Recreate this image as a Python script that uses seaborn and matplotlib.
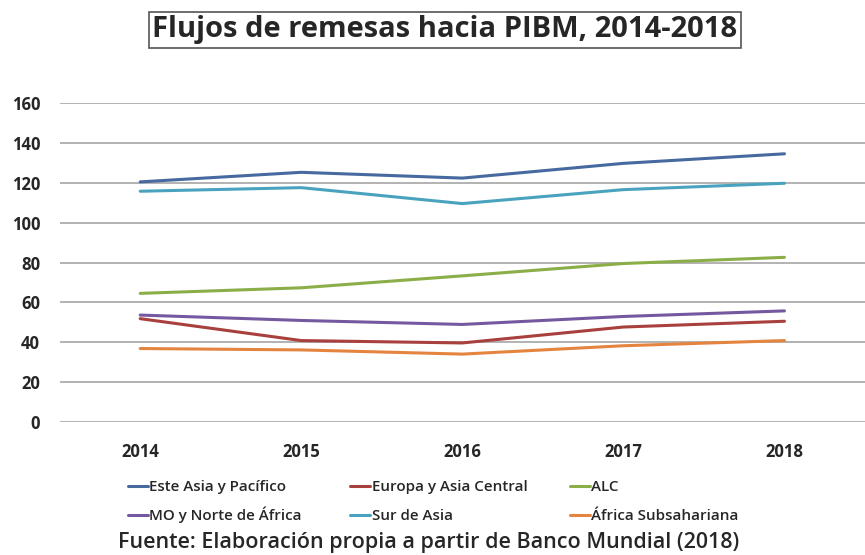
import pandas as pd
import numpy as np
import seaborn as sns
import matplotlib.pyplot as plt

# datos (miles de millones USD)
years = ['2014', '2015', '2016', '2017', '2018']
este_asia = [120.5, 125.3, 122.4, 129.8, 134.6]
europa_asia = [51.8, 40.8, 39.6, 47.6, 50.5]
alc = [64.5, 67.3, 73.3, 79.5, 82.6]
mo_norte_africa = [53.6, 50.9, 48.9, 52.9, 55.7]
sur_asia = [115.8, 117.6, 109.6, 116.6, 119.8]
africa_sub = [36.8, 36.1, 34.0, 38.2, 40.8]

series = ['Este Asia y Pacífico', 'Europa y Asia Central', 'ALC',
          'MO y Norte de África', 'Sur de Asia', 'África Subsahariana']
values = [este_asia, europa_asia, alc, mo_norte_africa, sur_asia, africa_sub]
colors = ['#46699F', '#A8403D', '#8AAE48', '#7459A0', '#4AA3BE', '#E5843F']

rows = []
for name, vals in zip(series, values):
    for i, v in enumerate(vals):
        rows.append({'idx': i, 'valor': v, 'region': name})
df = pd.DataFrame(rows)

sns.set_style('white')
plt.rcParams['font.family'] = ['Open Sans', 'DejaVu Sans']

fig = plt.figure(figsize=(8.65, 5.55), dpi=100)
ax = fig.add_axes([0.069, 0.24, 0.931, 0.574])

sns.lineplot(data=df, x='idx', y='valor', hue='region', hue_order=series,
             palette=colors, linewidth=2.2, ax=ax, legend=True)

ax.set_xlim(-0.5, 4.5)
ax.set_ylim(0, 160)
ax.set_yticks(range(0, 161, 20))
ax.set_xticks(range(len(years)))
ax.set_xticklabels(years)
ax.set_xlabel('')
ax.set_ylabel('')
ax.grid(axis='y', color='#a6a6a6', linewidth=1.2)
ax.set_axisbelow(True)
for s in ax.spines.values():
    s.set_visible(False)
ax.tick_params(axis='both', length=0, labelsize=12)
ax.tick_params(axis='x', pad=15)
ax.tick_params(axis='y', pad=14)
for lab in ax.get_xticklabels() + ax.get_yticklabels():
    lab.set_fontweight('bold')

# leyenda: una entrada por celda (3 columnas x 2 filas) para alinear las lineas base
handles, labels = ax.get_legend_handles_labels()
ax.get_legend().remove()
col_x = [0.148, 0.405, 0.659]
row_y = [0.110, 0.058]
for k, (h, lab) in enumerate(zip(handles, labels)):
    r, c = divmod(k, 3)
    leg = fig.legend([h], [lab], loc='lower left',
                     bbox_to_anchor=(col_x[c], row_y[r]),
                     bbox_transform=fig.transFigure, frameon=False,
                     prop={'size': 10.9, 'weight': 'semibold'},
                     handlelength=1.3, handletextpad=0.1,
                     borderpad=0, borderaxespad=0)

fig.text(0.514, 0.946, 'Flujos de remesas hacia PIBM, 2014-2018',
         ha='center', va='center', fontsize=21, fontweight='bold',
         bbox=dict(boxstyle='square,pad=0.12', fc='white', ec='#555555', lw=1.2))
fig.text(0.136, 0.023, 'Fuente: Elaboración propia a partir de Banco Mundial (2018)',
         ha='left', va='center', fontsize=15.5, fontweight='semibold')

fig.savefig('out.png', dpi=100)
